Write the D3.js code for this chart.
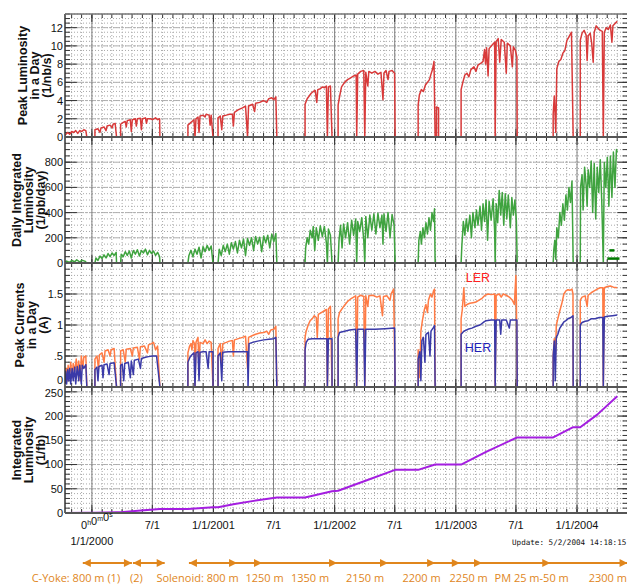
<!DOCTYPE html>
<html>
<head>
<meta charset="utf-8">
<script src="https://cdn.jsdelivr.net/npm/d3@7"></script>
<style>
  body { margin: 0; background: #fff; }
  text { font-family: "Liberation Sans", Arial, sans-serif; }
</style>
</head>
<body>
<script>
// time is counted in months from 1/1/2000 (0h0m0s)

// peak luminosity in a day (1/nb/s)
var peakLum = [[-2.67,0.2],[-2.4,0.5],[-2.2,0.3],[-2.0,0.6],[-1.8,0.5],[-1.6,0.7],[-1.4,0.4],[-1.2,0.7],[-1.0,0.6],[-0.8,0.8],[-0.6,0.7],[-0.5,0],
  [0.3,0],[0.3,0.8],[0.6,0.9],[0.8,0.5],[0.9,1.0],[1.2,1.1],[1.4,0.7],[1.5,1.2],[1.8,1.3],[2.0,1.0],[2.1,1.4],[2.3,1.5],[2.44,0],
  [2.84,0],[2.84,1.4],[3.1,1.6],[3.3,1.7],[3.4,1.1],[3.5,1.8],[3.8,1.9],[3.9,0.6],[4.0,1.9],[4.3,2.0],[4.4,1.2],[4.5,2.0],[4.8,2.05],[4.9,0.8],[5.0,2.0],[5.3,2.1],[5.4,1.5],[5.5,2.0],[5.8,2.0],[6.0,1.9],[6.3,2.1],[6.5,1.9],[6.7,2.0],[6.73,0],
  [9.5,0],[9.5,1.3],[9.7,1.5],[9.9,1.7],[10.1,1.9],[10.2,0],[10.3,2.0],[10.5,2.2],[10.6,0.5],[10.7,2.3],[11.0,2.4],[11.2,2.2],[11.3,2.5],[11.6,2.4],[11.7,1.3],[11.8,2.4],[11.98,0],
  [12.48,0],[12.48,2.1],[12.7,2.3],[12.85,0.8],[12.95,2.3],[13.3,2.4],[13.6,2.5],[13.9,2.5],[14.0,1.2],[14.1,2.7],[14.5,3.0],[14.9,3.2],[15.2,3.4],[15.4,0],[15.5,3.4],[15.9,3.6],[16.1,2.8],[16.2,3.7],[16.6,3.8],[17.0,4.0],[17.3,3.8],[17.5,4.2],[17.8,4.3],[18.0,4.1],[18.2,4.4],[18.3,0],
  [21.09,0],[21.09,3.6],[21.3,4.2],[21.5,4.5],[21.7,4.8],[21.9,5.0],[22.1,5.1],[22.25,3.8],[22.35,5.2],[22.6,5.3],[22.8,5.5],[23.0,5.4],[23.2,5.6],[23.3,0],[23.4,5.5],[23.6,5.6],[23.76,0],
  [24.36,0],[24.36,3.5],[24.5,4.4],[24.7,5.5],[25.0,6.0],[25.3,6.3],[25.6,6.5],[25.9,6.7],[26.15,6.8],[26.2,0],[26.3,6.9],[26.6,7.2],[26.9,7.3],[27.0,0],[27.1,7.1],[27.3,5.6],[27.4,7.2],[27.7,7.0],[28.0,7.2],[28.3,6.9],[28.6,7.1],[28.8,4.1],[28.9,7.0],[29.1,7.3],[29.3,6.3],[29.4,7.2],[29.7,7.3],[29.95,7.0],[30.0,0],
  [32.28,0],[32.28,3.5],[32.4,4.6],[32.6,5.2],[32.8,5.0],[33.0,5.7],[33.2,6.0],[33.4,6.3],[33.55,6.9],[33.7,7.4],[33.85,8.3],[33.96,0],[34.1,0],[34.1,3.3],[34.3,3.2],[34.3,0],
  [36.53,0],[36.53,5.2],[36.7,6.0],[36.9,6.8],[37.1,7.0],[37.3,6.6],[37.5,7.4],[37.8,7.7],[38.0,7.2],[38.2,7.9],[38.5,8.1],[38.7,8.3],[38.85,9.6],[38.95,8.0],[39.05,9.8],[39.2,6.7],[39.3,9.7],[39.6,10.1],[39.85,10.4],[39.9,0],[40.0,10.5],[40.2,10.8],[40.35,8.2],[40.5,10.7],[40.8,10.4],[41.0,7.0],[41.1,10.3],[41.4,10.0],[41.6,7.7],[41.7,9.9],[41.9,9.5],[42.05,8.8],[42.08,0],
  [45.64,0],[45.64,2.5],[45.75,4.5],[45.9,0.5],[46.0,7.5],[46.2,8.3],[46.4,8.5],[46.6,9.2],[46.8,9.5],[47.0,10.6],[47.2,11.0],[47.45,11.5],[47.62,0],
  [48.32,0],[48.32,10.6],[48.5,11.4],[48.7,11.7],[48.9,11.2],[49.0,8.4],[49.1,11.1],[49.3,11.4],[49.45,10.3],[49.6,8.2],[49.7,11.5],[49.9,12.2],[50.1,11.9],[50.3,11.7],[50.5,11.6],[50.6,0],[50.7,11.5],[50.9,12.0],[51.1,11.8],[51.3,12.3],[51.45,10.4],[51.55,12.2],[51.8,12.5],[51.98,12.7]];

// daily integrated luminosity (1/pb/day)
var dailyLum = [[-2.67,0],[-2.5,15],[-2.2,5],[-2.0,20],[-1.7,10],[-1.5,25],[-1.2,8],[-1.0,22],[-0.7,15],[-0.5,0],
  [0.3,0],[0.4,40],[0.6,20],[0.8,55],[1.0,35],[1.2,65],[1.4,40],[1.6,75],[1.8,50],[2.0,80],[2.2,60],[2.4,85],[2.44,0],
  [2.84,0],[2.9,70],[3.1,50],[3.3,90],[3.5,60],[3.7,95],[3.9,40],[4.1,100],[4.3,70],[4.5,105],[4.7,55],[4.9,100],[5.1,80],[5.3,110],[5.5,65],[5.7,100],[5.9,75],[6.1,95],[6.3,60],[6.5,85],[6.7,50],[6.73,0],
  [9.5,0],[9.6,60],[9.8,100],[10.0,50],[10.2,110],[10.4,70],[10.6,125],[10.8,40],[11.0,130],[11.2,90],[11.4,140],[11.6,100],[11.8,135],[11.98,0],
  [12.48,0],[12.6,110],[12.8,60],[13.0,140],[13.2,90],[13.4,150],[13.6,70],[13.8,160],[14.0,110],[14.2,170],[14.4,80],[14.6,180],[14.8,120],[15.0,190],[15.2,60],[15.4,195],[15.6,140],[15.8,200],[16.0,100],[16.2,210],[16.4,150],[16.6,205],[16.8,90],[17.0,215],[17.2,160],[17.4,220],[17.6,120],[17.8,230],[18.0,170],[18.2,235],[18.3,0],
  [21.09,0],[21.15,120],[21.3,200],[21.45,150],[21.6,260],[21.8,200],[21.9,290],[22.05,100],[22.2,280],[22.4,180],[22.6,295],[22.8,210],[23.0,290],[23.2,160],[23.3,0],[23.4,270],[23.6,220],[23.76,0],
  [24.36,0],[24.45,180],[24.6,300],[24.75,120],[24.9,310],[25.1,200],[25.3,320],[25.5,150],[25.7,340],[25.9,220],[26.1,350],[26.2,0],[26.3,330],[26.5,250],[26.7,360],[26.9,180],[27.0,0],[27.1,370],[27.3,200],[27.5,380],[27.7,260],[27.9,390],[28.1,230],[28.3,395],[28.5,280],[28.7,380],[28.8,150],[28.9,390],[29.1,250],[29.3,400],[29.5,200],[29.7,385],[29.9,300],[30.0,0],
  [32.28,0],[32.35,180],[32.5,250],[32.6,150],[32.75,280],[32.9,200],[33.05,320],[33.2,230],[33.35,360],[33.5,260],[33.65,400],[33.8,330],[33.9,430],[33.96,0],
  [36.53,0],[36.6,130],[36.75,330],[36.9,220],[37.05,350],[37.2,250],[37.4,380],[37.55,200],[37.7,400],[37.9,280],[38.05,420],[38.2,300],[38.4,450],[38.55,260],[38.7,470],[38.85,330],[39.0,500],[39.15,180],[39.3,490],[39.5,340],[39.7,510],[39.85,250],[39.9,0],[40.0,470],[40.15,320],[40.3,575],[40.45,380],[40.6,560],[40.75,300],[40.9,550],[41.05,350],[41.2,540],[41.4,280],[41.55,520],[41.7,380],[41.85,500],[42.0,330],[42.08,0],
  [45.64,0],[45.7,100],[45.8,180],[45.9,30],[46.0,280],[46.15,200],[46.3,400],[46.45,300],[46.6,470],[46.75,340],[46.9,540],[47.05,420],[47.2,600],[47.35,480],[47.5,650],[47.62,0],
  [48.32,0],[48.35,600],[48.5,700],[48.6,420],[48.75,760],[48.9,620],[49.0,450],[49.1,740],[49.25,600],[49.4,810],[49.55,400],[49.7,790],[49.85,350],[50.0,760],[50.15,560],[50.3,820],[50.45,480],[50.6,0],[50.7,800],[50.85,600],[51.0,840],[51.15,450],[51.3,850],[51.45,520],[51.6,880],[51.75,600],[51.9,900],[51.98,880]];

// the two short dark green marks at the end: [from, to, value]
var dailyRecent = [[51.2, 51.7, 100], [51.0, 52.2, 35]];

// peak currents in a day (A)
var lerCurrent = [[-2.67,0.15],[-2.55,0.3],[-2.45,0.1],[-2.35,0.35],[-2.2,0.2],[-2.1,0.4],[-1.95,0.15],[-1.85,0.38],[-1.7,0.25],[-1.55,0.45],[-1.4,0.2],[-1.3,0.42],[-1.15,0.1],[-1.05,0.5],[-0.9,0.3],[-0.8,0.48],[-0.6,0.5],[-0.5,0],
  [0.3,0],[0.3,0.45],[0.5,0.5],[0.65,0.3],[0.75,0.52],[1.0,0.55],[1.2,0.4],[1.3,0.58],[1.6,0.6],[1.8,0.5],[1.9,0.6],[2.2,0.62],[2.44,0],
  [2.84,0],[2.84,0.58],[3.1,0.6],[3.3,0.4],[3.4,0.61],[3.8,0.62],[4.0,0.5],[4.1,0.63],[4.5,0.64],[4.7,0.45],[4.8,0.65],[5.2,0.66],[5.5,0.55],[5.6,0.68],[5.9,0.7],[6.1,0.72],[6.3,0.6],[6.5,0.66],[6.73,0],
  [9.5,0],[9.5,0.55],[9.65,0.65],[9.8,0.7],[9.9,0.6],[10.0,0.75],[10.15,0.7],[10.2,0],[10.3,0.72],[10.5,0.8],[10.6,0.3],[10.7,0.72],[11.0,0.7],[11.2,0.76],[11.4,0.7],[11.6,0.74],[11.8,0.72],[11.98,0],
  [12.48,0],[12.48,0.62],[12.7,0.7],[12.85,0.35],[12.95,0.7],[13.3,0.72],[13.6,0.74],[13.9,0.75],[14.0,0.5],[14.1,0.76],[14.5,0.78],[14.9,0.8],[15.2,0.82],[15.4,0.3],[15.5,0.8],[15.9,0.83],[16.2,0.85],[16.6,0.87],[17.0,0.88],[17.3,0.9],[17.5,0.85],[17.7,0.92],[18.0,0.93],[18.2,0.98],[18.3,0],
  [21.09,0],[21.09,0.8],[21.2,0.9],[21.4,1.0],[21.6,1.07],[21.8,1.1],[22.0,1.15],[22.2,1.12],[22.3,0.8],[22.4,1.17],[22.7,1.2],[23.0,1.23],[23.2,1.25],[23.3,0],[23.4,1.26],[23.6,1.3],[23.76,0],
  [24.36,0],[24.36,1.1],[24.5,1.2],[24.7,1.25],[25.0,1.32],[25.3,1.38],[25.6,1.42],[25.9,1.45],[26.1,1.47],[26.2,0],[26.3,1.45],[26.6,1.48],[26.9,1.46],[27.0,0],[27.1,1.47],[27.3,1.3],[27.4,1.47],[27.8,1.48],[28.2,1.45],[28.5,1.47],[28.75,1.15],[28.85,1.46],[29.2,1.47],[29.5,1.4],[29.6,1.5],[29.85,1.58],[30.0,0],
  [32.28,0],[32.28,0.6],[32.45,0.15],[32.55,0.9],[32.7,1.07],[32.9,1.25],[33.05,1.33],[33.2,1.2],[33.3,1.4],[33.5,1.5],[33.65,1.45],[33.8,1.55],[33.9,1.58],[33.96,0],
  [36.53,0],[36.53,1.1],[36.65,1.25],[36.8,1.6],[36.9,1.3],[37.1,1.33],[37.4,1.35],[37.7,1.36],[38.0,1.37],[38.3,1.4],[38.6,1.43],[38.9,1.48],[39.2,1.5],[39.5,1.49],[39.85,1.5],[39.9,0],[40.0,1.48],[40.3,1.5],[40.5,1.45],[40.7,1.5],[41.0,1.48],[41.3,1.45],[41.6,1.4],[41.8,1.33],[41.95,1.8],[42.0,1.4],[42.08,0],
  [45.64,0],[45.64,0.5],[45.75,0.78],[45.85,0.4],[45.95,1.0],[46.1,1.1],[46.3,1.23],[46.5,1.35],[46.7,1.5],[46.9,1.55],[47.1,1.57],[47.3,1.56],[47.5,1.58],[47.6,1.5],[47.62,0],
  [48.32,0],[48.32,1.4],[48.5,1.45],[48.8,1.47],[49.0,1.3],[49.1,1.48],[49.4,1.52],[49.7,1.55],[50.0,1.58],[50.3,1.6],[50.55,1.6],[50.6,0],[50.7,1.6],[51.0,1.62],[51.3,1.63],[51.6,1.61],[51.98,1.6]];

var herCurrent = [[-2.67,0.05],[-2.6,0.25],[-2.5,0.05],[-2.4,0.28],[-2.3,0.1],[-2.2,0.3],[-2.1,0.05],[-1.95,0.3],[-1.85,0.1],[-1.7,0.32],[-1.6,0.05],[-1.45,0.33],[-1.3,0.1],[-1.2,0.35],[-1.05,0.05],[-0.95,0.35],[-0.8,0.3],[-0.6,0.36],[-0.5,0],
  [0.3,0],[0.3,0.28],[0.5,0.32],[0.6,0.1],[0.7,0.33],[1.0,0.35],[1.1,0.15],[1.2,0.36],[1.5,0.37],[1.7,0.2],[1.8,0.38],[2.2,0.39],[2.44,0],
  [2.84,0],[2.84,0.35],[3.0,0.37],[3.15,0.1],[3.25,0.38],[3.6,0.4],[3.8,0.15],[3.9,0.42],[4.1,0.2],[4.2,0.43],[4.6,0.45],[4.8,0.3],[4.9,0.46],[5.3,0.48],[5.6,0.49],[6.0,0.5],[6.4,0.5],[6.73,0],
  [9.5,0],[9.5,0.4],[9.7,0.48],[9.9,0.52],[10.1,0.55],[10.2,0],[10.3,0.55],[10.5,0.57],[10.6,0.1],[10.7,0.56],[11.0,0.57],[11.3,0.57],[11.5,0.3],[11.6,0.57],[11.98,0.57],[11.98,0],
  [12.48,0],[12.48,0.5],[12.7,0.55],[12.85,0.1],[12.95,0.56],[13.5,0.57],[14.0,0.57],[14.5,0.57],[15.0,0.57],[15.4,0.57],[15.45,0],[15.55,0.7],[15.9,0.72],[16.4,0.74],[17.0,0.76],[17.5,0.77],[18.0,0.78],[18.2,0.8],[18.3,0],
  [21.09,0],[21.09,0.6],[21.2,0.72],[21.4,0.77],[21.8,0.78],[22.2,0.78],[22.6,0.78],[23.0,0.78],[23.25,0.78],[23.3,0],[23.4,0.78],[23.76,0.78],[23.76,0],
  [24.36,0],[24.36,0.8],[24.5,0.88],[25.0,0.9],[25.5,0.92],[26.1,0.93],[26.2,0],[26.3,0.93],[26.9,0.93],[27.0,0],[27.1,0.93],[28.0,0.93],[29.0,0.94],[29.95,0.95],[30.0,0],
  [32.28,0],[32.28,0.45],[32.45,0.57],[32.55,0.1],[32.65,0.75],[32.8,0.8],[32.95,0.4],[33.05,0.85],[33.3,0.88],[33.45,0.5],[33.55,0.9],[33.75,0.95],[33.9,0.99],[33.96,0],
  [36.53,0],[36.53,0.85],[36.8,0.9],[37.2,0.93],[37.6,0.95],[38.0,0.98],[38.4,1.0],[38.8,1.05],[39.0,1.07],[39.5,1.08],[39.85,1.08],[39.9,0],[40.0,1.08],[40.35,1.08],[40.45,0.85],[40.55,1.08],[41.0,1.08],[41.3,0.95],[41.4,1.08],[41.8,1.08],[42.05,1.08],[42.08,0],
  [45.64,0],[45.64,0.5],[45.75,0.74],[45.85,0.1],[45.95,0.8],[46.1,0.85],[46.3,0.95],[46.5,1.0],[46.7,1.05],[46.9,1.07],[47.1,1.1],[47.4,1.12],[47.6,1.15],[47.62,0],
  [48.32,0],[48.32,1.0],[48.5,1.04],[48.8,1.06],[49.1,1.07],[49.4,1.1],[49.8,1.1],[50.2,1.12],[50.55,1.12],[50.6,0],[50.7,1.13],[51.0,1.14],[51.5,1.15],[51.98,1.16]];

// integrated luminosity (1/fb)
var intLum = [[-2.67,0],[-0.5,0.3],[0.3,0.3],[2.44,1.8],[2.84,1.8],[6.73,8.5],[9.5,8.5],[11.98,12],[12.48,12],[14.0,18],[16.0,25],[18.3,32],
  [21.09,32],[23.76,45],[24.36,46],[27.0,66],[30.0,89],[32.28,89],[33.96,100],[36.53,100],[39.0,126],[42.08,156],[45.64,156],[47.62,177],[48.32,177],[50.0,203],[51.98,241]];

var xTickLabels = ["1/1/2000", "7/1", "1/1/2001", "7/1", "1/1/2002", "7/1", "1/1/2003", "7/1", "1/1/2004"];

// detector / run conditions along the bottom
var stageNames = ["C-Yoke: 800 m (1)", "(2)", "Solenoid: 800 m", "1250 m", "1350 m", "2150 m", "2200 m", "2250 m", "PM 25 m-50 m", "2300 m"];
var stageLabelAt = [-1.58, 4.4, 10.45, 17.08, 21.58, 27.03, 32.62, 37.28, 43.51, 51.04];
var arrowSpans = [[-0.9, 3.96], [4.06, 7.2], [9.6, 53.0]];
var arrowTips = [3.96, 7.2, 14.36, 16.83, 24.26, 29.3, 33.96, 36.4, 38.6, 45.35, 53.0];

var W = 627, H = 585, L = 65, R = 627.5;
var svg = d3.select("body").append("svg").attr("width", W).attr("height", H);

var t0 = Date.UTC(2000, 0, 1);
function toDate(m) { return new Date(t0 + m * 30.4375 * 864e5); }

var x = d3.scaleUtc()
  .domain([new Date(Date.UTC(1999, 9, 12)), new Date(Date.UTC(2004, 5, 1))])
  .range([L, R]);

var panels = [
  {top: 14, bottom: 137, max: 13.5, major: d3.range(0, 13, 2), minor: 0.5, fmt: String,
   title: ["Peak Luminosity", "in a Day", "(1/nb/s)"], tx: [26.5, 38.5, 50.5],
   series: [{data: peakLum, color: "#d83a3a"}]},
  {top: 137, bottom: 263, max: 1000, major: d3.range(0, 1001, 200), minor: 50, fmt: String,
   title: ["Daily Integrated", "Luminosity", "(1/pb/day)"], tx: [20.5, 32.5, 44.5],
   series: [{data: dailyLum, color: "#3fa33f"}]},
  {top: 263, bottom: 387, max: 2, major: [0, 0.5, 1, 1.5, 2], minor: 0.1,
   fmt: function(v) { return v === 0.5 ? ".5" : String(v); },
   title: ["Peak Currents", "in a Day", "(A)"], tx: [23.5, 35.5, 47.5],
   series: [{data: lerCurrent, color: "#ff7b45"}, {data: herCurrent, color: "#3a3aa8"}]},
  {top: 387, bottom: 513, max: 260, major: d3.range(0, 251, 50), minor: 10, fmt: String,
   title: ["Integrated", "Luminosity", "(1/fb)"], tx: [21, 33, 45],
   series: [{data: intLum, color: "#a41ee0", width: 2}]}
];

var months = x.ticks(d3.utcMonth.every(1));
var halfYears = x.ticks(d3.utcMonth.every(6));

panels.forEach(function(p, i) {
  var y = d3.scaleLinear().domain([0, p.max]).range([p.bottom, p.top]);
  var g = svg.append("g");
  var minors = d3.range(0, p.max + 1e-9, p.minor).map(function(v) { return +v.toFixed(3); });

  // grid
  g.selectAll(".hm").data(minors).enter().append("line")
    .attr("x1", L).attr("x2", R).attr("y1", y).attr("y2", y)
    .attr("stroke", "#a8a8a8").attr("stroke-dasharray", "1,2");
  g.selectAll(".hM").data(p.major).enter().append("line")
    .attr("x1", L).attr("x2", R).attr("y1", y).attr("y2", y)
    .attr("stroke", "#b0b0b0").attr("stroke-dasharray", "3,1");
  g.selectAll(".vm").data(months).enter().append("line")
    .attr("x1", x).attr("x2", x).attr("y1", p.top).attr("y2", p.bottom)
    .attr("stroke", "#a8a8a8").attr("stroke-dasharray", "1,2");
  g.selectAll(".vM").data(halfYears).enter().append("line")
    .attr("x1", x).attr("x2", x).attr("y1", p.top).attr("y2", p.bottom)
    .attr("stroke", "#808080");

  // ticks on left and right
  g.selectAll(".lt").data(minors).enter().append("line")
    .attr("x1", L).attr("x2", L + 5).attr("y1", y).attr("y2", y).attr("stroke", "#333");
  g.selectAll(".lT").data(p.major).enter().append("line")
    .attr("x1", L).attr("x2", L + 12).attr("y1", y).attr("y2", y).attr("stroke", "#333");
  g.selectAll(".rt").data(minors).enter().append("line")
    .attr("x1", R - 5).attr("x2", R).attr("y1", y).attr("y2", y).attr("stroke", "#333");
  g.selectAll(".rT").data(p.major).enter().append("line")
    .attr("x1", R - 10).attr("x2", R).attr("y1", y).attr("y2", y).attr("stroke", "#333");

  // ticks on top and bottom
  [p.top, p.bottom].forEach(function(yy, k) {
    var dir = k === 0 ? 1 : -1;
    g.selectAll(null).data(months).enter().append("line")
      .attr("x1", x).attr("x2", x).attr("y1", yy).attr("y2", yy + dir * 4).attr("stroke", "#333");
    g.selectAll(null).data(halfYears).enter().append("line")
      .attr("x1", x).attr("x2", x).attr("y1", yy).attr("y2", yy + dir * 8).attr("stroke", "#333");
  });

  // tick labels, the top one left out; labels crowding a panel border are nudged apart
  g.selectAll(".yl").data(p.major.filter(function(v) { return y(v) > p.top + 3; }))
    .enter().append("text")
    .attr("x", L - 2)
    .attr("y", function(v) {
      if (i === 2 && v === 0) return y(v) - 7;
      if (i === 3 && v === 250) return y(v) + 1;
      return y(v);
    })
    .attr("dy", "0.36em")
    .attr("text-anchor", "end").attr("font-size", 11).attr("fill", "#111")
    .text(p.fmt);

  // title
  var tt = g.append("g");
  p.title.forEach(function(s, k) {
    tt.append("text")
      .attr("transform", "translate(" + p.tx[k] + "," + ((p.top + p.bottom) / 2) + ") rotate(-90)")
      .attr("text-anchor", "middle")
      .attr("font-weight", "bold").attr("font-size", 12.5).attr("fill", "#111")
      .text(s);
  });

  // data
  var clipId = "clip" + i;
  svg.append("clipPath").attr("id", clipId).append("rect")
    .attr("x", L).attr("y", p.top).attr("width", R - L).attr("height", p.bottom - p.top);
  var line = d3.line().x(function(d) { return x(toDate(d[0])); }).y(function(d) { return y(d[1]); });
  p.series.forEach(function(s) {
    svg.append("path").datum(s.data).attr("d", line)
      .attr("clip-path", "url(#" + clipId + ")")
      .attr("fill", "none").attr("stroke", s.color)
      .attr("stroke-width", s.width || 1.5).attr("stroke-linejoin", "round");
  });

  if (i === 1) {
    svg.selectAll(".recent").data(dailyRecent).enter().append("line")
      .attr("x1", function(d) { return x(toDate(d[0])); })
      .attr("x2", function(d) { return x(toDate(d[1])); })
      .attr("y1", function(d) { return y(d[2]); }).attr("y2", function(d) { return y(d[2]); })
      .attr("stroke", "#007a00").attr("stroke-width", 2.5);
  }
  if (i === 2) {
    svg.append("text").attr("x", x(toDate(38.2))).attr("y", y(1.7)).attr("text-anchor", "middle")
      .attr("font-size", 12.5).attr("fill", "#ff2020").text("LER");
    svg.append("text").attr("x", x(toDate(38.2))).attr("y", y(0.56)).attr("text-anchor", "middle")
      .attr("font-size", 12.5).attr("fill", "#2020b8").text("HER");
  }
});

// frame lines
svg.append("line").attr("x1", L).attr("x2", L).attr("y1", 14).attr("y2", 513)
  .attr("stroke", "#333").attr("stroke-width", 1.5);
[14, 137, 263, 387, 513].forEach(function(yy, k) {
  svg.append("line").attr("x1", L).attr("x2", R).attr("y1", yy).attr("y2", yy)
    .attr("stroke", k === 0 ? "#777" : "#555").attr("stroke-width", k === 0 ? 1.5 : 2);
});

// x labels
svg.selectAll(".xl").data(halfYears.slice(1)).enter().append("text")
  .attr("x", x).attr("y", 528.5).attr("text-anchor", "middle")
  .attr("font-size", 11).attr("fill", "#111")
  .text(function(d, k) { return xTickLabels[k + 1]; });
var first = svg.append("text").attr("x", x(halfYears[0]) + 5).attr("y", 528.5)
  .attr("text-anchor", "middle").attr("font-size", 11).attr("fill", "#111");
["h", "m", "s"].forEach(function(u) {
  first.append("tspan").attr("dy", 0).text("0");
  first.append("tspan").attr("font-size", 7).attr("dy", -4).text(u);
  first.append("tspan").attr("dy", 4).text("");
});
svg.append("text").attr("x", x(halfYears[0])).attr("y", 545).attr("text-anchor", "middle")
  .attr("font-size", 11).attr("fill", "#111").text(xTickLabels[0]);

svg.append("text").attr("x", 512).attr("y", 545)
  .style("font-family", "'DejaVu Sans Mono', monospace").attr("font-size", 7.6).attr("fill", "#111")
  .text("Update: 5/2/2004 14:18:15");

// run condition arrows
var orange = "#e0861c", ay = 563;
var ag = svg.append("g");
arrowSpans.forEach(function(s) {
  var x1 = x(toDate(s[0])), x2 = x(toDate(s[1]));
  ag.append("line").attr("x1", x1).attr("x2", x2).attr("y1", ay).attr("y2", ay)
    .attr("stroke", orange).attr("stroke-width", 2);
  ag.append("path").attr("d", "M" + x1 + "," + ay + "l8,-4l0,8z").attr("fill", orange);
});
arrowTips.forEach(function(m) {
  var xt = x(toDate(m));
  ag.append("path").attr("d", "M" + xt + "," + ay + "l-8,-4l0,8z").attr("fill", orange);
});
ag.selectAll("text").data(stageNames).enter().append("text")
  .attr("x", function(d, k) { return x(toDate(stageLabelAt[k])); })
  .attr("y", 582).attr("text-anchor", "middle")
  .style("font-family", "'Open Sans', 'Noto Sans', sans-serif")
  .attr("font-size", 11).attr("fill", orange)
  .text(function(d) { return d; });
</script>
</body>
</html>
